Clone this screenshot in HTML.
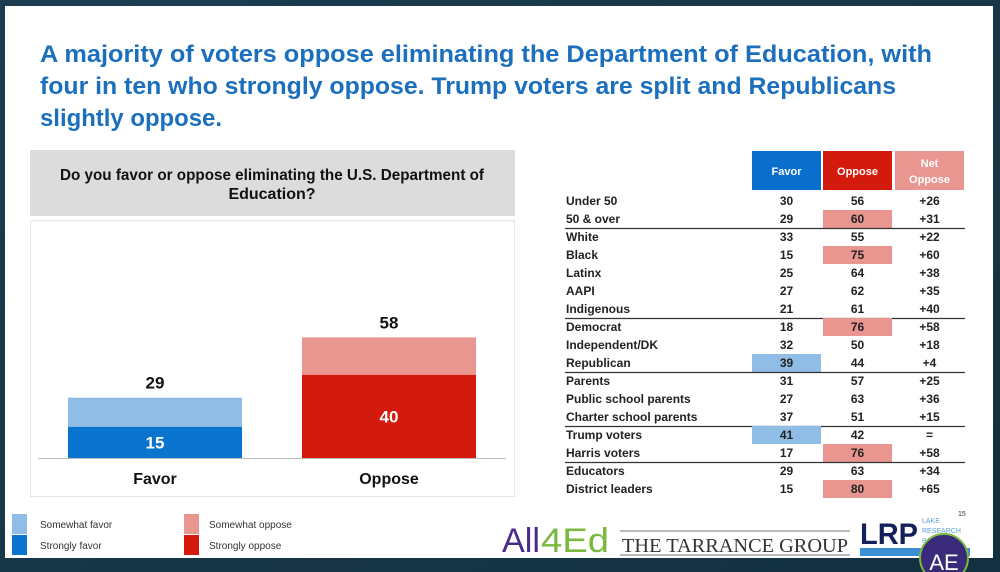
<!DOCTYPE html>
<html><head><meta charset="utf-8"><style>
html,body{margin:0;padding:0;background:#1d3a4a;}
svg{display:block;font-family:"Liberation Sans",sans-serif;}
</style></head><body>
<svg id="s" width="1000" height="572" viewBox="0 0 1000 572">
<defs><linearGradient id="bg" x1="0" y1="0" x2="1" y2="1"><stop offset="0" stop-color="#1c3d50"/><stop offset="1" stop-color="#12303f"/></linearGradient></defs>
<rect width="1000" height="572" fill="url(#bg)"/>
<rect x="5" y="6" width="988" height="552" fill="#fff"/>
<g fill="#1b6fbd" font-weight="bold" font-size="24">
<text x="40" y="62" textLength="892" lengthAdjust="spacingAndGlyphs">A majority of voters oppose eliminating the Department of Education, with</text>
<text x="40" y="94" textLength="856" lengthAdjust="spacingAndGlyphs">four in ten who strongly oppose. Trump voters are split and Republicans</text>
<text x="40" y="126" textLength="182" lengthAdjust="spacingAndGlyphs">slightly oppose.</text>
</g>
<rect x="30" y="150" width="485" height="66" fill="#dcdcdc"/>
<g font-weight="bold" font-size="16" fill="#111" text-anchor="middle">
<text x="272" y="180" textLength="424" lengthAdjust="spacingAndGlyphs">Do you favor or oppose eliminating the U.S. Department of</text>
<text x="272" y="199">Education?</text>
</g>
<rect x="30.5" y="220.5" width="484" height="276" fill="#fff" stroke="#e6e6e6"/>
<g id="bars"></g>
<line x1="38" y1="458.5" x2="506" y2="458.5" stroke="#bbb"/>
<g id="table"></g>
<g font-size="10" fill="#333">
<rect x="12" y="514" width="15" height="20" fill="#8fbde6"/>
<rect x="12" y="535" width="15" height="20" fill="#0a74cf"/>
<rect x="184" y="514" width="15" height="20" fill="#ea9690"/>
<rect x="184" y="535" width="15" height="20" fill="#d41a0c"/>
<text x="40" y="528">Somewhat favor</text><text x="40" y="549">Strongly favor</text>
<text x="209" y="528">Somewhat oppose</text><text x="209" y="549">Strongly oppose</text>
</g>
<g>
<text x="502" y="552" font-size="34" fill="#4a2a8a" textLength="38" lengthAdjust="spacingAndGlyphs">All</text>
<text x="541" y="552" font-size="34" fill="#7ab840" textLength="68" lengthAdjust="spacingAndGlyphs">4Ed</text>
<line x1="620" y1="531" x2="850" y2="531" stroke="#777"/>
<text x="622" y="552" font-size="20" font-family="Liberation Serif,serif" fill="#333" textLength="226" lengthAdjust="spacingAndGlyphs">THE TARRANCE GROUP</text>
<line x1="620" y1="555" x2="850" y2="555" stroke="#777"/>
<text x="860" y="544" font-size="30" font-weight="bold" fill="#14205a" textLength="58" lengthAdjust="spacingAndGlyphs">LRP</text>
<text x="922" y="523" font-size="7" fill="#5aa0d8">LAKE</text>
<text x="922" y="533" font-size="7" fill="#5aa0d8">RESEARCH</text>
<text x="922" y="543" font-size="7" fill="#5aa0d8">PARTNERS</text>
<text x="958" y="516" font-size="7" fill="#333">15</text>
<rect x="860" y="548" width="110" height="8" fill="#3c8fd4"/>
<circle cx="944" cy="558" r="24" fill="#3a2a7a" stroke="#7ab840" stroke-width="2"/>
<text x="944" y="570" font-size="22" fill="#fff" text-anchor="middle">AE</text>
</g>
</svg>
<script>
const categories = ["Favor","Oppose"];
const strongValues = [15,40];
const totalValues = [29,58];
const rowLabels = ["Under 50","50 & over","White","Black","Latinx","AAPI","Indigenous","Democrat","Independent/DK","Republican","Parents","Public school parents","Charter school parents","Trump voters","Harris voters","Educators","District leaders"];
const favorVals = [30,29,33,15,25,27,21,18,32,39,31,27,37,41,17,29,15];
const opposeVals = [56,60,55,75,64,62,61,76,50,44,57,63,51,42,76,63,80];
const netLabels = ["+26","+31","+22","+60","+38","+35","+40","+58","+18","+4","+25","+36","+15","=","+58","+34","+65"];
const highlightFavor = [9,13];
const highlightOppose = [1,3,7,14,16];
const separatorsAfter = [1,6,9,12,14];

const NS="http://www.w3.org/2000/svg";
function mk(tag,attrs,parent,txt){const e=document.createElementNS(NS,tag);for(const k in attrs)e.setAttribute(k,attrs[k]);if(txt!==undefined)e.textContent=txt;parent.appendChild(e);return e;}
const base=458, scale=2.08;
const yv=v=>base-v*scale;
const xc=i=>155+i*234;
const bw=174;
const bars=document.getElementById('bars');
const lightC=["#8fbde6","#ea9690"], darkC=["#0a74cf","#d41a0c"];
categories.forEach((c,i)=>{
  const r1=mk('rect',{x:xc(i)-bw/2,y:yv(totalValues[i]),width:bw,height:(totalValues[i]-strongValues[i])*scale,fill:lightC[i]},bars);
  
  
  const r2=mk('rect',{x:xc(i)-bw/2,y:yv(strongValues[i]),width:bw,height:strongValues[i]*scale,fill:darkC[i]},bars);
  
  
  const t1=mk('text',{x:xc(i),y:yv(totalValues[i])-9,'text-anchor':'middle','font-size':17,'font-weight':'bold',fill:'#111'},bars,totalValues[i]);
  
  
  const t2=mk('text',{x:xc(i),y:(yv(strongValues[i])+base)/2+6,'text-anchor':'middle','font-size':17,'font-weight':'bold',fill:'#fff'},bars,strongValues[i]);
  
  
  const t3=mk('text',{x:xc(i),y:484,'text-anchor':'middle','font-size':16,'font-weight':'bold',fill:'#111'},bars,c);
  
  
});

const tb=document.getElementById('table');
const heads=[["Favor","#0a6fcc",752],["Oppose","#d41a0c",823],["Net Oppose","#ea9690",895]];
heads.forEach(h=>{
  const r=mk('rect',{x:h[2],y:151,width:69,height:39,fill:h[1]},tb);
  
  
  if(h[0]==="Net Oppose"){
    mk('text',{x:h[2]+34.5,y:167,'text-anchor':'middle','font-size':11,'font-weight':'bold',fill:'#fff'},tb,"Net");
    mk('text',{x:h[2]+34.5,y:183,'text-anchor':'middle','font-size':11,'font-weight':'bold',fill:'#fff'},tb,"Oppose");
  } else mk('text',{x:h[2]+34.5,y:175,'text-anchor':'middle','font-size':11,'font-weight':'bold',fill:'#fff'},tb,h[0]);
});
const y0=192, rh=18;
rowLabels.forEach((l,i)=>{
  const top=y0+i*rh;
  if(highlightFavor.includes(i)){const r=mk('rect',{x:752,y:top,width:69,height:rh,fill:'#8fbde6'},tb);}
  if(highlightOppose.includes(i)){const r=mk('rect',{x:823,y:top,width:69,height:rh,fill:'#ea9690'},tb);}
  const g=mk('g',{'font-size':12,'font-weight':'bold',fill:'#222'},tb);
  
  
  mk('text',{x:566,y:top+13},g,l);
  mk('text',{x:786.5,y:top+13,'text-anchor':'middle'},g,favorVals[i]);
  mk('text',{x:857.5,y:top+13,'text-anchor':'middle'},g,opposeVals[i]);
  mk('text',{x:929.5,y:top+13,'text-anchor':'middle'},g,netLabels[i]);
  if(separatorsAfter.includes(i)){const ln=mk('line',{x1:565,x2:965,y1:top+rh+0.5,y2:top+rh+0.5,stroke:'#333','stroke-width':1.2},tb);}
});
</script>
</body></html>
